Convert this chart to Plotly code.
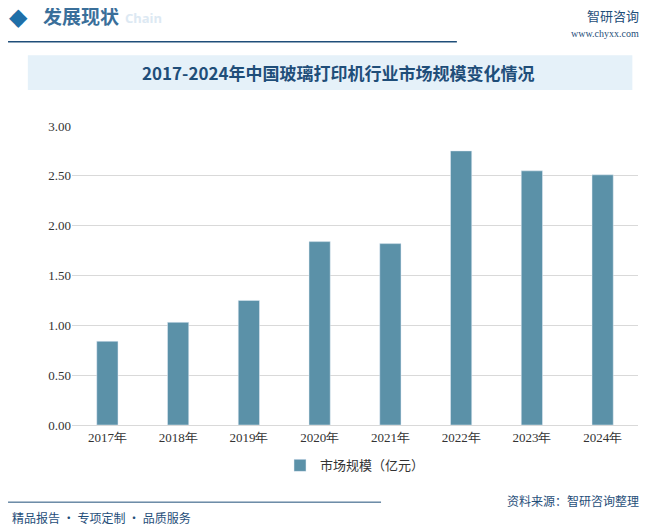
import plotly.graph_objects as go

years = ['2017年', '2018年', '2019年', '2020年', '2021年', '2022年', '2023年', '2024年']
market_size = [0.84, 1.03, 1.25, 1.84, 1.82, 2.75, 2.55, 2.51]
y_ticks = [0, 0.5, 1, 1.5, 2, 2.5, 3]
y_labels = ['0.00', '0.50', '1.00', '1.50', '2.00', '2.50', '3.00']

cjk = 'Noto Sans CJK SC'
dark = '#1f4e79'

fig = go.Figure()
fig.add_trace(go.Bar(
    x=years, y=market_size, name='市场规模（亿元）',
    marker_color='#5b91a8', width=0.3,
))

fig.update_layout(
    width=648, height=524,
    paper_bgcolor='white', plot_bgcolor='white',
    margin=dict(l=64, r=18, t=118, b=107),
    showlegend=True,
    legend=dict(orientation='h', x=0.5, xanchor='center', y=-0.085, yanchor='top',
                font=dict(family=cjk, size=13, color='#333')),
    bargap=0.6,
)
fig.update_yaxes(range=[0, 3], tickvals=y_ticks, ticktext=y_labels,
                 gridcolor='#d9d9d9', zeroline=False,
                 tickfont=dict(family='Liberation Serif', size=13, color='#333'))
fig.update_xaxes(showline=True, linecolor='#d9d9d9',
                 tickfont=dict(family='Liberation Serif', size=13, color='#333'))

shapes = [
    dict(type='rect', xref='paper', yref='paper', x0=-0.078, x1=0.99, y0=1.12, y1=1.237,
         fillcolor='#e5f1f9', line_width=0, layer='below'),
    dict(type='line', xref='paper', yref='paper', x0=-0.113, x1=0.68, y0=1.282, y1=1.282,
         line=dict(color=dark, width=1.5)),
    dict(type='line', xref='paper', yref='paper', x0=-0.113, x1=0.546, y0=-0.258, y1=-0.258,
         line=dict(color=dark, width=1)),
]
fig.update_layout(shapes=shapes)

ann = [
    dict(text='<b>2017-2024年中国玻璃打印机行业市场规模变化情况</b>', x=0.47, y=1.178,
         font=dict(family=cjk, size=17, color=dark)),
    dict(text='◆', x=-0.115, y=1.371, xanchor='left', font=dict(size=24, color='#1f6fa8')),
    dict(text='<b>发展现状</b>', x=-0.055, y=1.371, xanchor='left',
         font=dict(family=cjk, size=19, color='#3a6f9a')),
    dict(text='<b>Chain</b>', x=0.09, y=1.36, xanchor='left',
         font=dict(family='Noto Sans', size=13, color='#dde9f3')),
    dict(text='智研咨询', x=1.005, y=1.371, xanchor='right',
         font=dict(family=cjk, size=13, color=dark)),
    dict(text='www.chyxx.com', x=1.005, y=1.31, xanchor='right',
         font=dict(family='Liberation Serif', size=10, color=dark)),
    dict(text='资料来源：智研咨询整理', x=1.005, y=-0.254, xanchor='right',
         font=dict(family=cjk, size=12, color=dark)),
    dict(text='精品报告 · 专项定制 · 品质服务', x=-0.11, y=-0.308, xanchor='left',
         font=dict(family=cjk, size=12, color=dark)),
]
for a in ann:
    a.update(xref='paper', yref='paper', showarrow=False, yanchor='middle')
fig.update_layout(annotations=ann)

fig.write_html('out.html')
